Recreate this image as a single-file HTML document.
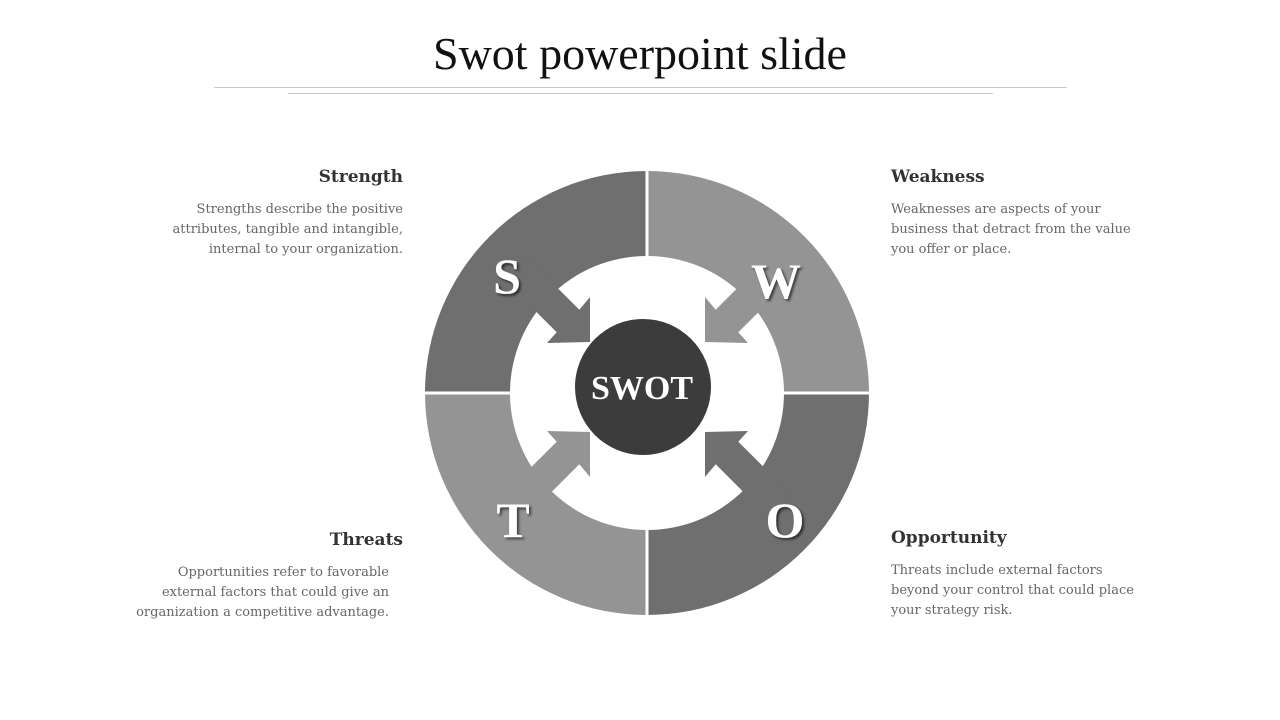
<!DOCTYPE html>
<html><head><meta charset="utf-8"><style>
body{margin:0;width:1280px;height:720px;background:#fff;position:relative;overflow:hidden;font-family:"Liberation Serif",serif}
.t{position:absolute;color:#666;font-family:"DejaVu Serif",serif;font-size:13px;line-height:20px;white-space:nowrap}
.h{position:absolute;color:#333;font-family:"DejaVu Serif",serif;font-size:17px;font-weight:bold}
</style></head><body>
<div style="position:absolute;top:27px;left:0;width:1280px;text-align:center;font-size:46px;color:#111">Swot powerpoint slide</div>
<div style="position:absolute;top:87px;left:214px;width:853px;height:1px;background:#c8c8c8"></div>
<div style="position:absolute;top:93px;left:288px;width:705px;height:1px;background:#c8c8c8"></div>
<svg width="1280" height="720" style="position:absolute;left:0;top:0">
<defs>
<filter id="sh"><feDropShadow dx="2" dy="2" stdDeviation="1.2" flood-color="#000" flood-opacity="0.6"/></filter>
<polygon id="ar" points="590,342 590,297 579.3,309.7 524.8,255.2 502.2,277.8 556.7,332.3 547,343"/>
</defs>
<path d="M425,393 A222,222 0 0 1 647,171 L647,256 A137,137 0 0 0 510,393 Z" fill="#6f6f6f"/>
<path d="M647,171 A222,222 0 0 1 869,393 L784,393 A137,137 0 0 0 647,256 Z" fill="#949494"/>
<path d="M869,393 A222,222 0 0 1 647,615 L647,530 A137,137 0 0 0 784,393 Z" fill="#6f6f6f"/>
<path d="M647,615 A222,222 0 0 1 425,393 L510,393 A137,137 0 0 0 647,530 Z" fill="#949494"/>
<use href="#ar" fill="#6f6f6f"/>
<use href="#ar" fill="#949494" transform="translate(1295,0) scale(-1,1)"/>
<use href="#ar" fill="#949494" transform="translate(0,774) scale(1,-1)"/>
<use href="#ar" fill="#6f6f6f" transform="translate(1295,774) scale(-1,-1)"/>
<rect x="645.5" y="165" width="3" height="456" fill="#fff"/>
<rect x="420" y="391.5" width="455" height="3" fill="#fff"/>
<circle cx="643" cy="387" r="68" fill="#3c3c3c"/>
<text x="642" y="399" text-anchor="middle" font-family="Liberation Serif" font-weight="bold" font-size="34" fill="#fff">SWOT</text>
<g font-family="Liberation Serif" font-weight="bold" font-size="50" fill="#fff" text-anchor="middle" filter="url(#sh)">
<text x="507" y="293">S</text><text x="776" y="298">W</text><text x="513" y="537">T</text><text x="785" y="537">O</text>
</g>
</svg>
<div class="h" style="right:877px;top:167px">Strength</div>
<div class="t" style="right:877px;top:200px;text-align:right">Strengths describe the positive<br>attributes, tangible and intangible,<br>internal to your organization.</div>
<div class="h" style="left:891px;top:167px">Weakness</div>
<div class="t" style="left:891px;top:200px">Weaknesses are aspects of your<br>business that detract from the value<br>you offer or place.</div>
<div class="h" style="right:877px;top:530px">Threats</div>
<div class="t" style="right:891px;top:563px;text-align:right">Opportunities refer to favorable<br>external factors that could give an<br>organization a competitive advantage.</div>
<div class="h" style="left:891px;top:528px">Opportunity</div>
<div class="t" style="left:891px;top:561px">Threats include external factors<br>beyond your control that could place<br>your strategy risk.</div>
</body></html>
